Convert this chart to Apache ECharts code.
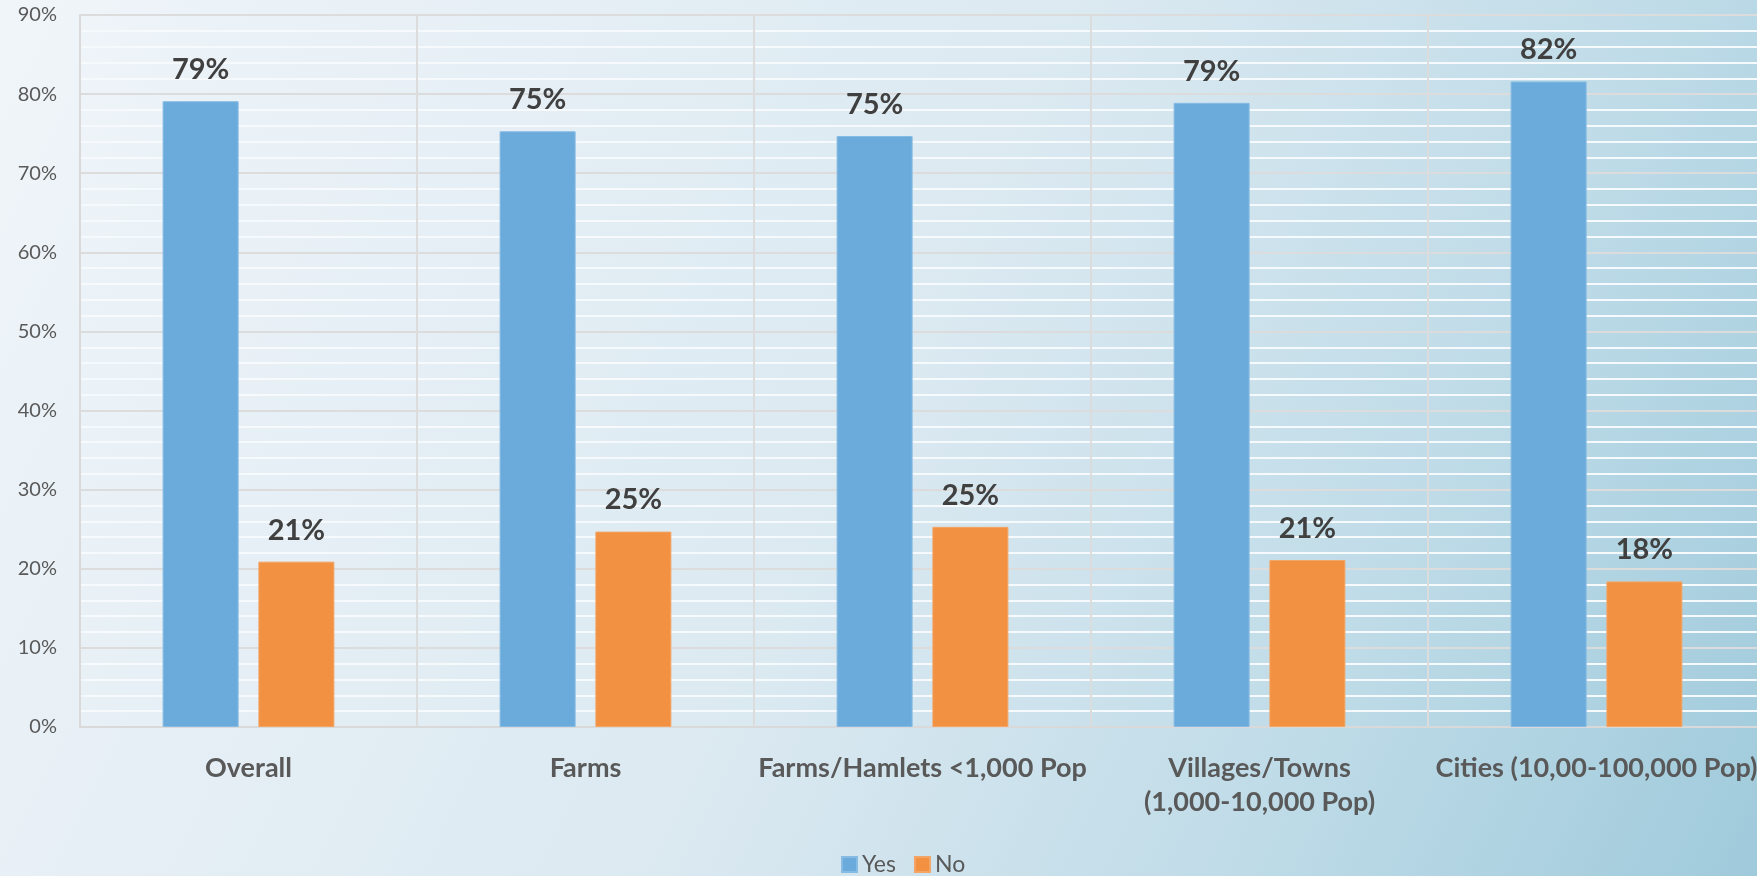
<!DOCTYPE html>
<html>
<head>
<meta charset="utf-8">
<script src="https://cdn.jsdelivr.net/npm/echarts@6/dist/echarts.min.js"></script>
<style>
html,body{margin:0;padding:0;overflow:hidden;width:1757px;height:876px;}
#chart{width:1765px;height:876px;}
</style>
</head>
<body>
<div id="chart"></div>
<script>
const categories = ['Overall', 'Farms', 'Farms/Hamlets <1,000 Pop', 'Villages/Towns\n(1,000-10,000 Pop)', 'Cities (10,00-100,000 Pop)'];
const yesValues = [79.1, 75.3, 74.7, 78.9, 81.6];
const noValues = [20.9, 24.7, 25.3, 21.1, 18.4];
const seriesNames = ['Yes', 'No'];

const chart = echarts.init(document.getElementById('chart'));
const labelFont = 'Lato, "Open Sans", sans-serif';
const dataLabel = {
  show: true,
  position: 'top',
  distance: 17,
  formatter: p => Math.round(p.value) + '%',
  fontFamily: labelFont,
  fontWeight: 'bold',
  fontSize: 29,
  color: '#404040'
};
chart.setOption({
  backgroundColor: new echarts.graphic.LinearGradient(0, 0, 1, 1, [
    {offset: 0, color: '#f0f5f9'},
    {offset: 0.5, color: '#dbe9f1'},
    {offset: 0.75, color: '#c0dce8'},
    {offset: 1, color: '#9fcadb'}
  ]),
  animation: false,
  textStyle: {fontFamily: labelFont},
  grid: {left: 80, right: 0, top: 15, bottom: 149, containLabel: false},
  legend: {
    data: seriesNames,
    left: 841,
    top: 853,
    padding: 0,
    itemWidth: 15,
    itemHeight: 15,
    itemGap: 18,
    icon: 'rect',
    textStyle: {fontFamily: labelFont, fontSize: 23, color: '#595959'}
  },
  xAxis: {
    type: 'category',
    data: categories,
    axisLine: {show: true, lineStyle: {color: '#d9d9d9', width: 2}},
    axisTick: {show: false},
    splitLine: {show: true, lineStyle: {color: '#dcdcdc', width: 2}},
    axisLabel: {
      interval: 0,
      margin: 24,
      fontFamily: labelFont,
      fontWeight: 'bold',
      fontSize: 27,
      lineHeight: 34,
      color: '#595959'
    }
  },
  yAxis: {
    type: 'value',
    min: 0,
    max: 90,
    interval: 10,
    axisLine: {show: true, lineStyle: {color: '#d9d9d9', width: 2}},
    axisTick: {show: false},
    axisLabel: {
      formatter: '{value}%',
      margin: 23,
      fontFamily: labelFont,
      fontSize: 20,
      color: '#595959'
    },
    splitLine: {show: true, lineStyle: {color: '#dcdcdc', width: 2}},
    minorTick: {show: false, splitNumber: 5},
    minorSplitLine: {show: true, lineStyle: {color: '#f7fafc', width: 2}}
  },
  series: [
    {
      name: seriesNames[0],
      type: 'bar',
      data: yesValues,
      barWidth: 76,
      barGap: '26%',
      itemStyle: {color: '#6aabdc', borderColor: '#86bbe3', borderWidth: 1},
      label: dataLabel
    },
    {
      name: seriesNames[1],
      type: 'bar',
      data: noValues,
      barWidth: 76,
      barGap: '26%',
      itemStyle: {color: '#f19141', borderColor: '#f3a565', borderWidth: 1},
      label: dataLabel
    }
  ]
});
</script>
</body>
</html>
